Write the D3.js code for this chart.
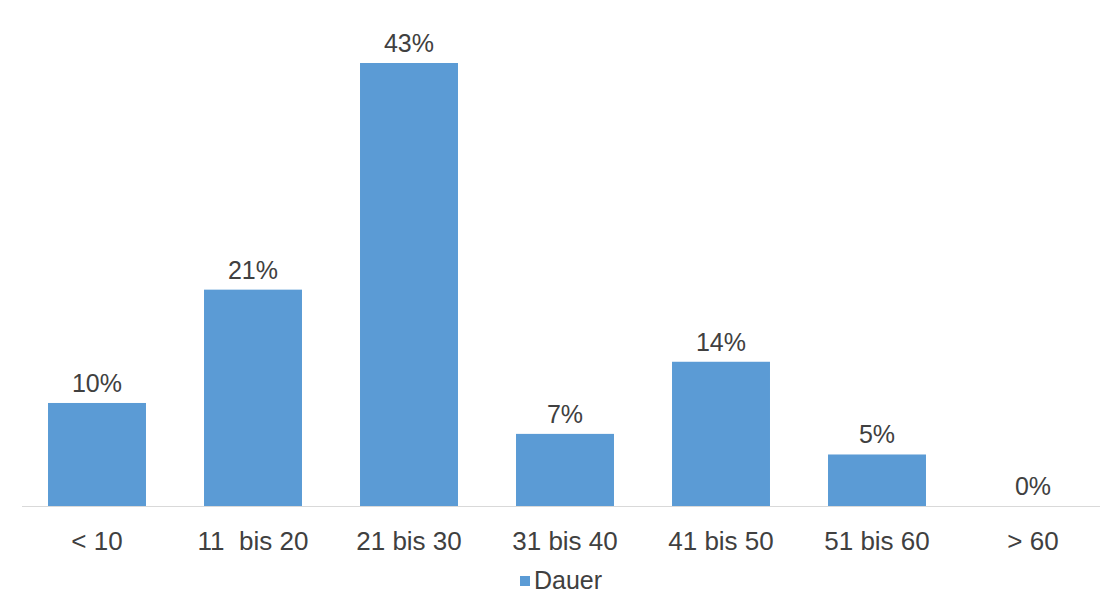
<!DOCTYPE html>
<html>
<head>
<meta charset="utf-8">
<script src="https://cdn.jsdelivr.net/npm/d3@7"></script>
<style>
  body { margin: 0; background: #fff; }
  text { font-family: "Liberation Sans", Arial, sans-serif; fill: #404040; }
</style>
</head>
<body>
<div id="chart"></div>
<script>
// data
var categories = ["< 10", "11  bis 20", "21 bis 30", "31 bis 40", "41 bis 50", "51 bis 60", "> 60"];
var values = [10, 21, 43, 7, 14, 5, 0];
var seriesName = "Dauer";

var width = 1111, height = 594;
var baseline = 506;

var svg = d3.select("#chart")
  .append("svg")
    .attr("width", width)
    .attr("height", height);

var data = categories.map(function(c, i) { return {cat: c, val: values[i]}; });

// x scale
var x = d3.scaleBand()
  .domain(categories)
  .range([19, 1111])
  .paddingInner(0.372)
  .paddingOuter(0.186);

// y scale
var y = d3.scaleLinear()
  .domain([0, 43])
  .range([baseline, 63]);

// bars
svg.selectAll(".bar")
  .data(data)
  .enter()
  .append("rect")
    .attr("class", "bar")
    .attr("x", function(d) { return x(d.cat); })
    .attr("y", function(d) { return y(d.val); })
    .attr("width", x.bandwidth())
    .attr("height", function(d) { return baseline - y(d.val); })
    .attr("fill", "#5b9bd5");

// axis line
svg.append("line")
  .attr("x1", 22)
  .attr("x2", 1100)
  .attr("y1", baseline + 0.5)
  .attr("y2", baseline + 0.5)
  .attr("stroke", "#d9d9d9")
  .attr("stroke-width", 1);

// value labels
svg.selectAll(".val")
  .data(data)
  .enter()
  .append("text")
    .attr("class", "val")
    .attr("x", function(d) { return x(d.cat) + x.bandwidth() / 2; })
    .attr("y", function(d) { return y(d.val) - 11; })
    .attr("text-anchor", "middle")
    .style("font-size", "25px")
    .text(function(d) { return d.val + "%"; });

// category labels
svg.selectAll(".cat")
  .data(data)
  .enter()
  .append("text")
    .attr("class", "cat")
    .attr("x", function(d) { return x(d.cat) + x.bandwidth() / 2; })
    .attr("y", 550)
    .attr("text-anchor", "middle")
    .style("font-size", "26px")
    .style("white-space", "pre")
    .attr("xml:space", "preserve")
    .text(function(d) { return d.cat; });

// legend
var legend = svg.append("g").attr("transform", "translate(520,576)");
legend.append("rect")
  .attr("width", 10)
  .attr("height", 10)
  .attr("fill", "#5b9bd5");
legend.append("text")
  .attr("x", 14)
  .attr("y", 13)
  .style("font-size", "25px")
  .text(seriesName);
</script>
</body>
</html>
